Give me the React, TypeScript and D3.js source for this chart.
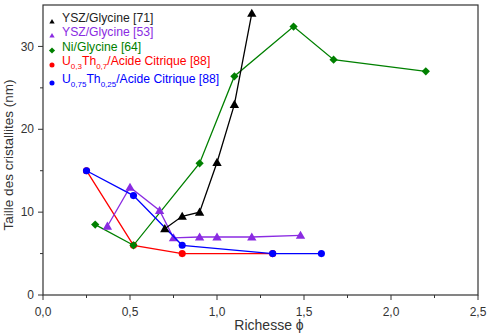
import * as d3 from "d3";

// Chemical-synthesis series: equivalence ratio (richesse) vs crystallite size (nm)
const yszGly71X = [0.7, 0.8, 0.9, 1.0, 1.1, 1.2];
const yszGly71Y = [8.0, 9.5, 10.0, 16.0, 23.0, 34.0];

const yszGly53X = [0.37, 0.5, 0.67, 0.75, 0.9, 1.0, 1.2, 1.48];
const yszGly53Y = [8.3, 13.0, 10.2, 6.9, 7.0, 7.0, 7.0, 7.2];

const niGlyX = [0.3, 0.52, 0.9, 1.1, 1.44, 1.67, 2.2];
const niGlyY = [8.5, 6.0, 15.9, 26.4, 32.4, 28.4, 27.0];

const u03X = [0.25, 0.52, 0.8, 1.32];
const u03Y = [15.0, 6.0, 5.0, 5.0];

const u075X = [0.25, 0.52, 0.8, 1.32, 1.6];
const u075Y = [15.0, 12.0, 6.0, 5.0, 5.0];

const xTicks = [0, 0.5, 1.0, 1.5, 2.0, 2.5];
const xMinor = [0.25, 0.75, 1.25, 1.75, 2.25];
const yTicks = [0, 10, 20, 30];
const yMinor = [5, 15, 25];

type Marker = "triangle" | "diamond" | "circle";

interface Series {
  xs: number[];
  ys: number[];
  color: string;
  marker: Marker;
}

const series: Series[] = [
  { xs: u03X, ys: u03Y, color: "#ff0000", marker: "circle" },
  { xs: niGlyX, ys: niGlyY, color: "#008000", marker: "diamond" },
  { xs: yszGly53X, ys: yszGly53Y, color: "#8a2be2", marker: "triangle" },
  { xs: u075X, ys: u075Y, color: "#0000ff", marker: "circle" },
  { xs: yszGly71X, ys: yszGly71Y, color: "#000000", marker: "triangle" },
];

const FONT = "'Liberation Sans', Arial, sans-serif";

// legend glyphs are drawn smaller than the plotted ones
const legendScale: Record<Marker, number> = { triangle: 0.32, diamond: 0.55, circle: 0.5 };

function markerPath(m: Marker, scale = 1): string {
  if (m === "triangle") return d3.symbol(d3.symbolTriangle, 38 * scale)() || "";
  if (m === "diamond") return d3.symbol(d3.symbolSquare, 34 * scale)() || "";
  return d3.symbol(d3.symbolCircle, 40 * scale)() || "";
}

function MarkerShape({
  m,
  x,
  y,
  color,
  scale = 1,
}: {
  m: Marker;
  x: number;
  y: number;
  color: string;
  scale?: number;
}) {
  const rot = m === "diamond" ? " rotate(45)" : "";
  const dy = m === "triangle" ? 0.8 * Math.sqrt(scale) : 0;
  return (
    <path
      d={markerPath(m, scale)}
      transform={`translate(${x},${y + dy})${rot}`}
      fill={color}
    />
  );
}

export default function App() {
  const width = 487;
  const height = 335;
  const left = 43;
  const right = 478;
  const top = 5;
  const bottom = 295;

  const x = d3.scaleLinear().domain([0, 2.5]).range([left, right]);
  const y = d3.scaleLinear().domain([0, 35]).range([bottom, top]);
  const fmt = (v: number) => v.toFixed(1).replace(".", ",");

  const line = d3
    .line<[number, number]>()
    .x((d) => x(d[0]))
    .y((d) => y(d[1]));

  const legendRows = [
    { color: "#000000", marker: "triangle" as Marker, y: 21.5, parts: [["YSZ/Glycine [71]", false]] },
    { color: "#8a2be2", marker: "triangle" as Marker, y: 35.5, parts: [["YSZ/Glycine [53]", false]] },
    { color: "#008000", marker: "diamond" as Marker, y: 50.5, parts: [["Ni/Glycine [64]", false]] },
    {
      color: "#ff0000",
      marker: "circle" as Marker,
      y: 65,
      parts: [["U", false], ["0,3", true], ["Th", false], ["0,7", true], ["/Acide Citrique [88]", false]],
    },
    {
      color: "#0000ff",
      marker: "circle" as Marker,
      y: 83,
      parts: [["U", false], ["0,75", true], ["Th", false], ["0,25", true], ["/Acide Citrique [88]", false]],
    },
  ];

  return (
    <svg
      width={width}
      height={height}
      style={{ position: "absolute", left: 0, top: 0, background: "#fff" }}
      fontFamily={FONT}
    >
      <rect x={0} y={0} width={width} height={height} fill="#fff" />

      {/* series */}
      {series.map((s, i) => {
        const pts = s.xs.map((v, j) => [v, s.ys[j]] as [number, number]);
        return (
          <g key={i}>
            <path d={line(pts) || ""} fill="none" stroke={s.color} strokeWidth={1.3} />
            {pts.map((p, j) => (
              <MarkerShape key={j} m={s.marker} x={x(p[0])} y={y(p[1])} color={s.color} />
            ))}
          </g>
        );
      })}

      {/* frame */}
      <rect
        x={left}
        y={top}
        width={right - left}
        height={bottom - top}
        fill="none"
        stroke="#333"
        strokeWidth={1.2}
      />

      {/* x axis */}
      {xTicks.map((t) => (
        <g key={t}>
          <line x1={x(t)} x2={x(t)} y1={bottom} y2={bottom + 5} stroke="#333" />
          <text x={x(t)} y={316} fontSize={12} textAnchor="middle" fill="#333">
            {fmt(t)}
          </text>
        </g>
      ))}
      {xMinor.map((t) => (
        <line key={t} x1={x(t)} x2={x(t)} y1={bottom} y2={bottom + 3} stroke="#333" />
      ))}
      <text x={269} y={330} fontSize={14} textAnchor="middle" fill="#333">
        Richesse ϕ
      </text>

      {/* y axis */}
      {yTicks.map((t) => (
        <g key={t}>
          <line x1={left - 5} x2={left} y1={y(t)} y2={y(t)} stroke="#333" />
          <text x={34} y={y(t)} dy="0.35em" fontSize={12} textAnchor="end" fill="#333">
            {t}
          </text>
        </g>
      ))}
      {yMinor.map((t) => (
        <line key={t} x1={left - 3} x2={left} y1={y(t)} y2={y(t)} stroke="#333" />
      ))}
      <text
        transform={`translate(13,${(top + bottom) / 2 + 5}) rotate(-90)`}
        fontSize={13.5}
        textAnchor="middle"
        fill="#333"
      >
        Taille des cristallites (nm)
      </text>

      {/* legend */}
      {legendRows.map((r, i) => (
        <g key={i}>
          <MarkerShape m={r.marker} x={52} y={r.y} color={r.color} scale={legendScale[r.marker]} />
          <text x={62} y={r.y} dy="0.35em" fontSize={12.2} fill={r.color === "#000000" ? "#222" : r.color}>
            {r.parts.map(([txt, sub], j) =>
              sub ? (
                <tspan key={j} fontSize={8} dy={3.5}>
                  {txt as string}
                </tspan>
              ) : (
                <tspan key={j} dy={j > 0 && r.parts[j - 1][1] ? -3.5 : 0}>
                  {txt as string}
                </tspan>
              )
            )}
          </text>
        </g>
      ))}
    </svg>
  );
}
